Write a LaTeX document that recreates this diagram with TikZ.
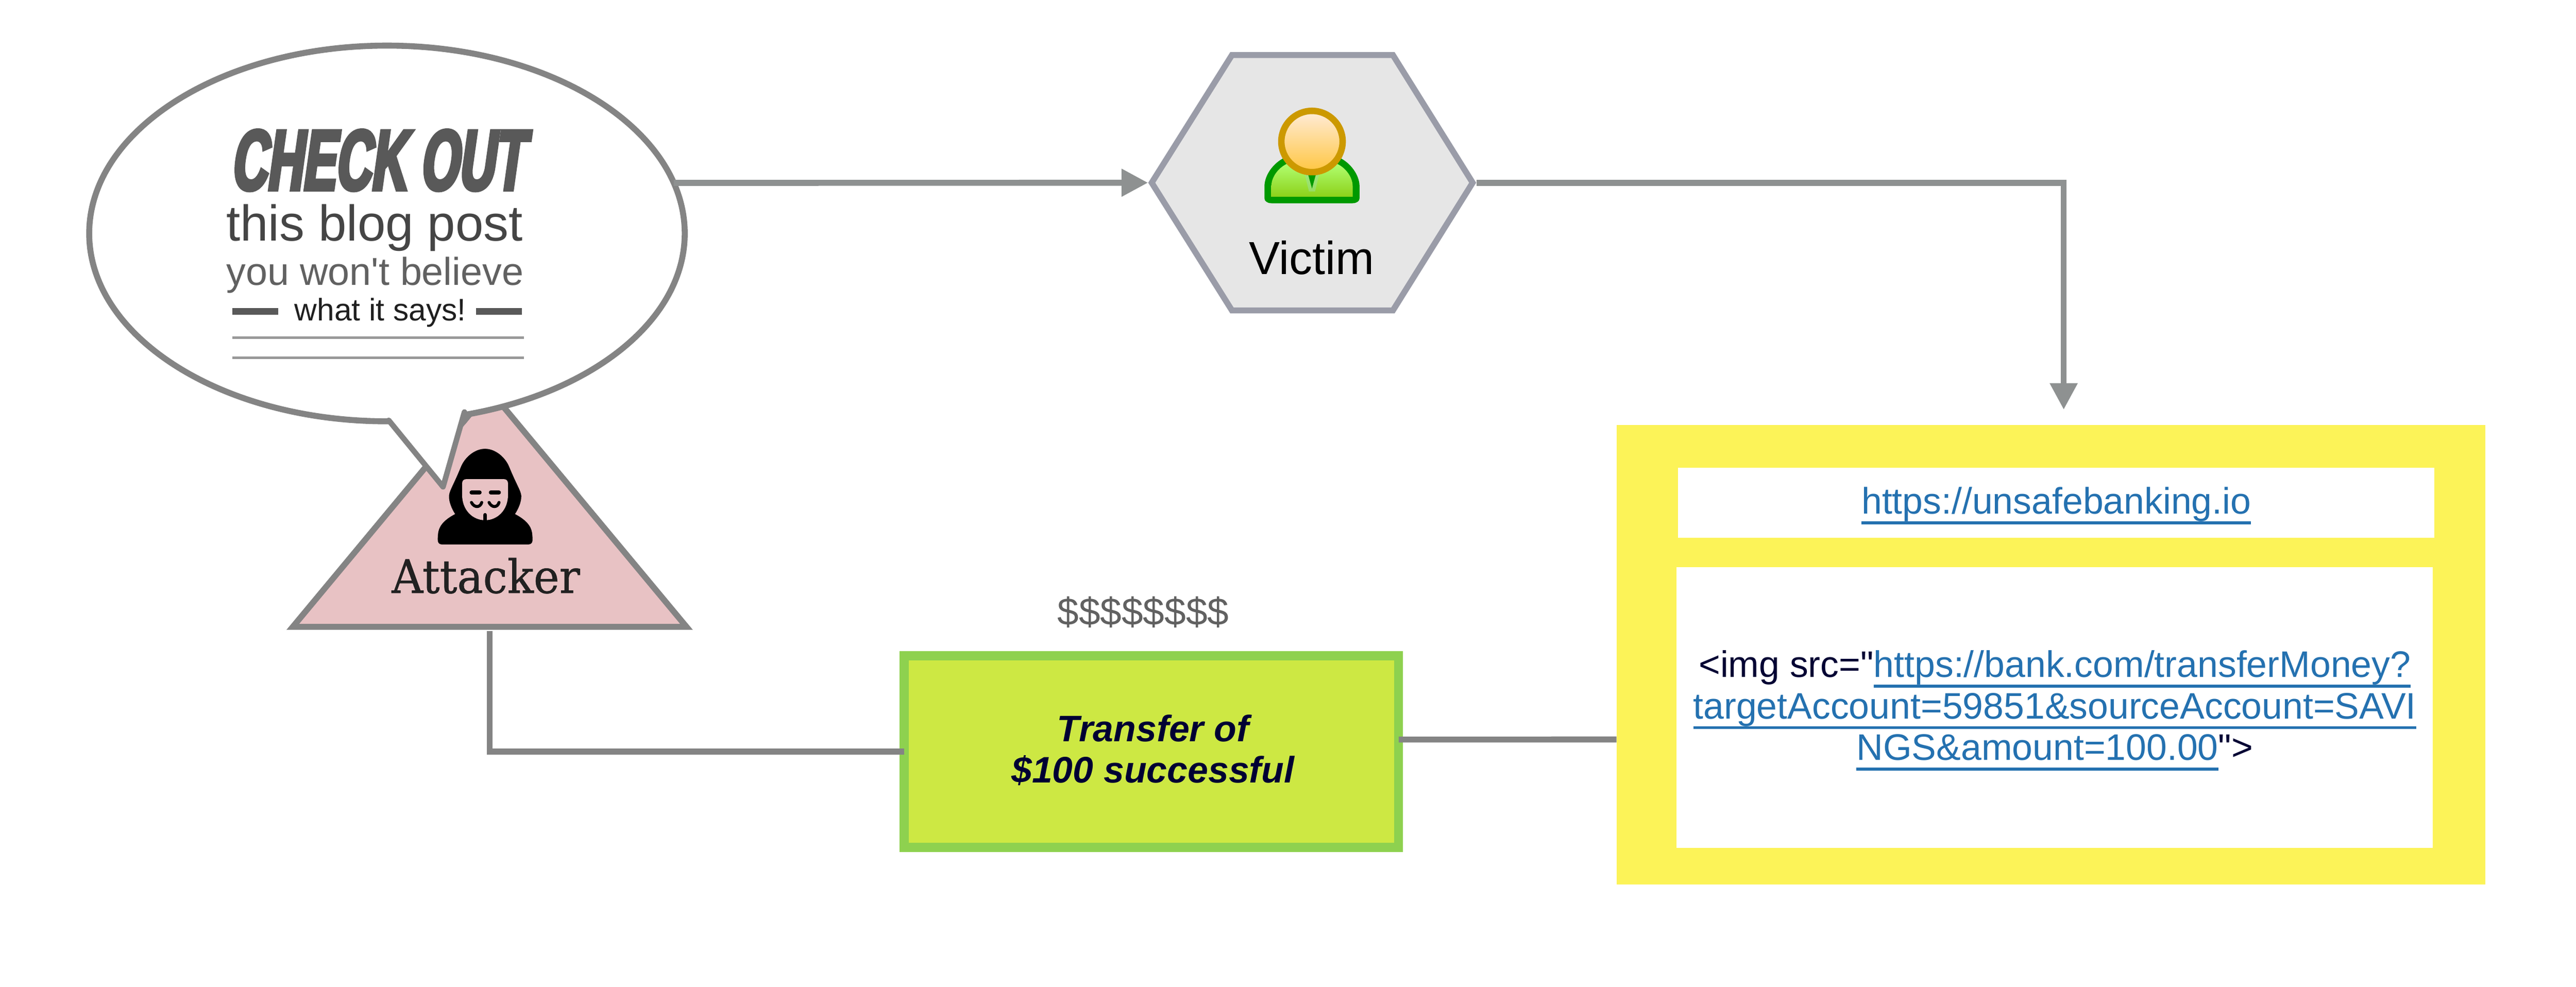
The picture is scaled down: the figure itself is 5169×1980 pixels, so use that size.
\documentclass[tikz,border=0pt]{standalone}
\usepackage{fontspec}
\setmainfont[Ligatures=TeXOff]{Liberation Sans}
\newfontfamily\slabfont[FakeStretch=0.94,FakeBold=0.7]{DejaVu Serif}
\newfontfamily\comicfont[FakeStretch=0.575,FakeSlant=0.14,FakeBold=4]{Liberation Sans}
\usetikzlibrary{shapes.geometric,arrows.meta,calc}
\definecolor{connA}{HTML}{8E9191}
\definecolor{connB}{HTML}{848484}
\definecolor{hexline}{HTML}{9A9CA8}
\definecolor{hexfill}{HTML}{E6E6E6}
\definecolor{atkfill}{HTML}{E8C2C4}
\definecolor{okfill}{HTML}{CDE843}
\definecolor{okline}{HTML}{8ED14F}
\definecolor{pagefill}{HTML}{FCF358}
\definecolor{linkblue}{HTML}{2471B0}
\definecolor{navy}{HTML}{000033}
\definecolor{userline}{HTML}{009900}
\definecolor{headline}{HTML}{CC9900}
\newcommand\lnk[1]{\setbox0\hbox{#1}\rlap{\rule[-21pt]{\wd0}{6pt}}\box0}
\newcommand\px[1]{\fontsize{#1pt}{#1pt}\selectfont}
\tikzset{
  conn/.style={draw=connA,line width=12pt},
  connlow/.style={draw=connB,line width=12pt},
  tiparrow/.style={-{Triangle[length=53pt,width=53pt]}},
  ghost/.style={inner sep=0pt,outer sep=0pt,draw=none},
  label/.style={inner sep=0pt,outer sep=0pt,anchor=base},
  whitebox/.style={inner sep=0pt,outer sep=0pt,fill=white},
  textblock/.style={inner sep=0pt,outer sep=0pt,align=center}
}
\begin{document}
\begin{tikzpicture}[x=1pt,y=-1pt]
\useasboundingbox[fill=white] (0,0) rectangle (5169,1980);

% node frames
\node[ghost,minimum width=790pt,minimum height=475pt] (attacker) at (982.5,1020.5) {};
\node[ghost,minimum width=644pt,minimum height=512.5pt] (victim) at (2633,366.7) {};
\node[draw=okline,fill=okfill,line width=18pt,inner sep=0pt,outer sep=0pt,
      minimum width=992pt,minimum height=384.5pt] (green) at (2310.5,1508.2) {};
\node[fill=pagefill,ghost,minimum width=1743.4pt,minimum height=922pt] (page) at (4115.3,1314) {};
\coordinate (pagein) at (4141,822);
\coordinate (corner) at (4141,366.7);

% connectors
\draw[conn,line join=miter] ([xshift=8pt]victim.east) -- (corner) -- (pagein) [tiparrow];
\draw[connlow] ([yshift=-8pt]attacker.south) |- (green.west);
\draw[connlow] ([yshift=24pt]green.east) -- ([yshift=-170pt]page.west);

% attacker triangle
\draw[draw=connB,fill=atkfill,line width=12pt,line join=miter]
  (attacker.south west) -- (attacker.south east) -- (attacker.north) -- cycle;

% victim hexagon
\draw[draw=hexline,fill=hexfill,line width=12pt,line join=miter]
  (victim.west) -- (2472,110.5) -- (2795,110.5) -- (victim.east) -- (2795,623) -- (2472,623) -- cycle;

% bubble
\node[ellipse,draw=connB,fill=white,line width=12pt,inner sep=0pt,outer sep=0pt,
      minimum width=1195pt,minimum height=754pt] (bubble) at (776.5,468.5) {};
\coordinate (tailL) at (780,843.5);
\coordinate (tailT) at (889,977);
\coordinate (tailR) at (932,826.7);
\fill[white] (tailL) -- (tailT) -- (tailR) -- (932,800) -- (780,800) -- cycle;
\draw[draw=connB,line width=11pt,line join=round,line cap=round] (tailL) -- (tailT) -- (tailR);
\fill[connB] (931.7,823) -- (949.3,832) -- (933.3,851.7) -- cycle;

\draw[conn] (bubble.10.4) -- ([xshift=-7.5pt]victim.west) [tiparrow];

% attacker icon
\begin{scope}[shift={(850,780)},x=0.3333pt,y=-0.3333pt]
\fill[black] (110,938) -- (630,938) .. controls (650,938) and (657,925) .. (656,905)
  .. controls (654,860) and (655,810) .. (550,755) .. controls (570,725) and (590,680) .. (588,645)
  .. controls (586,615) and (560,580) .. (515,470) .. controls (490,410) and (430,362) .. (370,362)
  .. controls (310,362) and (250,410) .. (225,470) .. controls (180,580) and (155,615) .. (153,645)
  .. controls (151,680) and (170,725) .. (190,755) .. controls (85,810) and (87,860) .. (85,905)
  .. controls (84,925) and (92,938) .. (110,938) -- cycle;
\fill[atkfill] (232,570) .. controls (232,555) and (242,545) .. (255,545) -- (485,545)
  .. controls (498,545) and (508,555) .. (508,570) -- (508,640)
  .. controls (508,730) and (445,792) .. (370,792) .. controls (295,792) and (232,730) .. (232,640) -- cycle;
\draw[black,line width=7.5pt,line cap=round] (288,625) -- (338,625) (404,625) -- (454,625);
\draw[black,line width=6pt,line cap=round]
  (288,685) .. controls (305,718) and (340,718) .. (350,685)
  (394,685) .. controls (410,718) and (445,718) .. (454,685);
\draw[black,line width=7.5pt,line cap=round] (370,760) -- (370,800);
\end{scope}

% victim icon
\begin{scope}[shift={(2250,50)},x=0.5102pt,y=-0.3954pt]
\fill[userline] (590,905) -- (910,905) .. controls (925,905) and (937,895) .. (937,880) -- (937,820)
  .. controls (937,760) and (900,700) .. (860,675) -- (640,675)
  .. controls (600,700) and (563,760) .. (563,820) -- (563,880)
  .. controls (563,895) and (575,905) .. (590,905) -- cycle;
\shade[top color=green!55!yellow!55!white,bottom color=green!60!black!50!yellow!90!white]
  (590,872) -- (910,872) -- (910,820) .. controls (910,770) and (880,720) .. (840,700) -- (660,700)
  .. controls (620,720) and (590,770) .. (590,820) -- cycle;
\fill[green!70!black!40!white,opacity=.55] (722,760) -- (778,760) -- (762,845) -- (738,845) -- cycle;
\fill[userline] (735,760) -- (765,760) -- (750,830) -- cycle;
\end{scope}
\path[draw=headline,line width=13pt,top color=white!85!orange,bottom color=orange!60!yellow!75!white]
  (2632.6,284) circle (61.5pt);

% texts
\node[label,text=black] (victimname) at (2632,550) {\px{93}Victim};
\node[label,text=black!87] (attackername) at (975,1190) {\slabfont\px{92.6}Attacker};
\node[label,text=black!65,text depth=0pt] (checkout) at (757,381) {\comicfont\bfseries\px{172}CHECK OUT};
\node[label,text=black!73,text height=72pt] (blogpost) at (751.5,483) {\px{101}this blog post};
\node[label,text=black!62] (believe) at (752.6,572) {\px{78}you won't believe};
\node[label,text=black!88] (says) at (763,644) {\px{62.5}what it says!};
\draw[black!65,line width=14pt] (466,625) -- (558,625) (955,625) -- (1047,625);
\draw[black!40,line width=6pt] (466,677.6) -- (1051,677.6) (466,718) -- (1051,718);

\node[label,text=black!62] (dollars) at (2294,1254) {\px{77.4}\$\$\$\$\$\$\$\$};

\node[textblock,text=navy,font=\fontsize{74pt}{83pt}\selectfont\bfseries\itshape] (transfer)
      at ([xshift=3pt,yshift=3pt]green.center) {Transfer of\\\$100 successful};

\node[whitebox,minimum width=1517.5pt,minimum height=140pt] (urlbox) at (4126.2,1009) {};
\node[textblock,text=linkblue,font=\fontsize{74pt}{84pt}\selectfont] (urltext)
      at ([yshift=-6pt]urlbox.center) {\lnk{https://unsafebanking.io}};
\node[whitebox,minimum width=1518pt,minimum height=564pt] (imgbox) at (4123,1420) {};
\node[textblock,text=navy,font=\fontsize{74pt}{83.5pt}\selectfont] (imgtext)
      at ([yshift=-6pt]imgbox.center)
      {<img src="{\color{linkblue}\lnk{https://bank.com/transferMoney?}}\\
       {\color{linkblue}\lnk{targetAccount=59851\&sourceAccount=SAVI}}\\
       {\color{linkblue}\lnk{NGS\&amount=100.00}}">};
\end{tikzpicture}
\end{document}
